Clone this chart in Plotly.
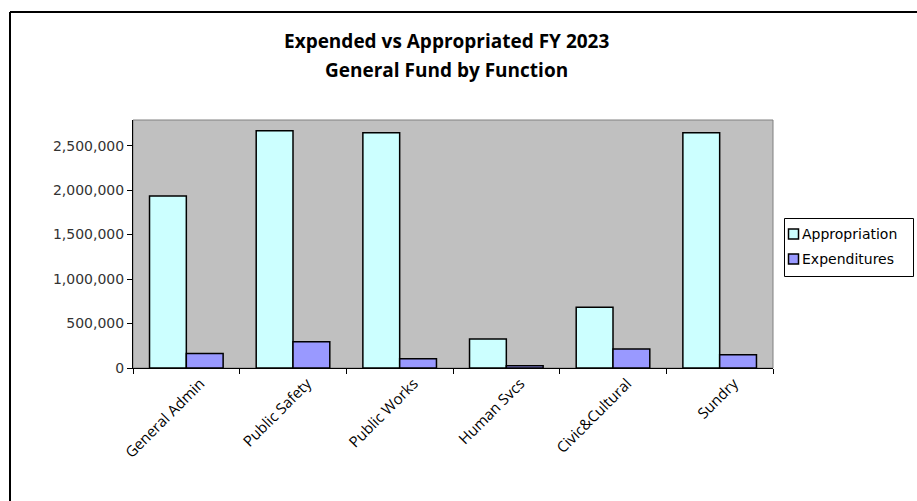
import plotly.graph_objects as go

categories = ["General Admin", "Public Safety", "Public Works", "Human Svcs", "Civic&Cultural", "Sundry"]
appropriation = [1933000, 2668000, 2646000, 325000, 683000, 2646000]
expenditures = [163000, 295000, 104000, 25000, 213000, 149000]
y_ticks = [0, 500000, 1000000, 1500000, 2000000, 2500000]
series_names = ["Appropriation", "Expenditures"]
series_colors = ["#CCFFFF", "#9999FF"]

W, H = 917, 501
L, R, T, B = 133, 773, 120, 368

fig = go.Figure()
for name, vals, col in zip(series_names, [appropriation, expenditures], series_colors):
    fig.add_trace(go.Bar(x=categories, y=vals, name=name, showlegend=False,
                         marker=dict(color=col, line=dict(color="black", width=1.5))))

def px_x(p):
    return (p - L) / (R - L)

def px_y(p):
    return (B - p) / (B - T)

shapes = [
    dict(type="rect", xref="paper", yref="paper", x0=0, x1=1, y0=0, y1=1,
         line=dict(color="#808080", width=1), layer="below"),
    # outer chart frame (left, top)
    dict(type="line", xref="paper", yref="paper", x0=px_x(10), x1=px_x(10), y0=px_y(12), y1=px_y(505),
         line=dict(color="black", width=2)),
    dict(type="line", xref="paper", yref="paper", x0=px_x(10), x1=px_x(920), y0=px_y(12), y1=px_y(12),
         line=dict(color="black", width=2)),
    # legend box
    dict(type="rect", xref="paper", yref="paper", x0=px_x(784.5), x1=px_x(913.5), y0=px_y(218.5), y1=px_y(276.5),
         line=dict(color="black", width=1), fillcolor="white"),
]
annotations = [
    dict(text="<b>Expended vs Appropriated FY 2023</b>", xref="paper", yref="paper",
         x=px_x(446), y=px_y(41), xanchor="center", yanchor="middle", showarrow=False,
         font=dict(family="Open Sans", size=19, color="black")),
    dict(text="<b>General Fund by Function</b>", xref="paper", yref="paper",
         x=px_x(446), y=px_y(70), xanchor="center", yanchor="middle", showarrow=False,
         font=dict(family="Open Sans", size=19, color="black")),
]
for i, (name, col) in enumerate(zip(series_names, series_colors)):
    cy = 234 + 25 * i
    shapes.append(dict(type="rect", xref="paper", yref="paper",
                       x0=px_x(788.5), x1=px_x(798.5), y0=px_y(cy - 5), y1=px_y(cy + 5),
                       line=dict(color="black", width=1.5), fillcolor=col))
    annotations.append(dict(text=name, xref="paper", yref="paper", x=px_x(800), y=px_y(cy),
                            xanchor="left", yanchor="middle", showarrow=False,
                            font=dict(family="DejaVu Sans", size=14, color="black")))

fig.update_layout(
    width=W, height=H,
    margin=dict(l=L, r=W - R, t=T, b=H - B),
    paper_bgcolor="white",
    plot_bgcolor="#C0C0C0",
    barmode="group",
    bargap=0.31,
    bargroupgap=0,
    showlegend=False,
    xaxis=dict(type="category", tickson="boundaries", ticks="outside", ticklen=5,
               tickcolor="black", showline=True, linecolor="black", linewidth=1,
               tickangle=-45, ticklabelshift=14,
               tickfont=dict(family="Open Sans", size=15, color="black"),
               showgrid=False),
    yaxis=dict(range=[0, 2788000], tickvals=y_ticks, tickformat=",d",
               ticks="outside", ticklen=5, tickcolor="black",
               showline=True, linecolor="black", linewidth=1, showgrid=False,
               zeroline=False,
               tickfont=dict(family="DejaVu Sans", size=14, color="#333333")),
    shapes=shapes,
    annotations=annotations,
)

fig.write_html("out.html")
